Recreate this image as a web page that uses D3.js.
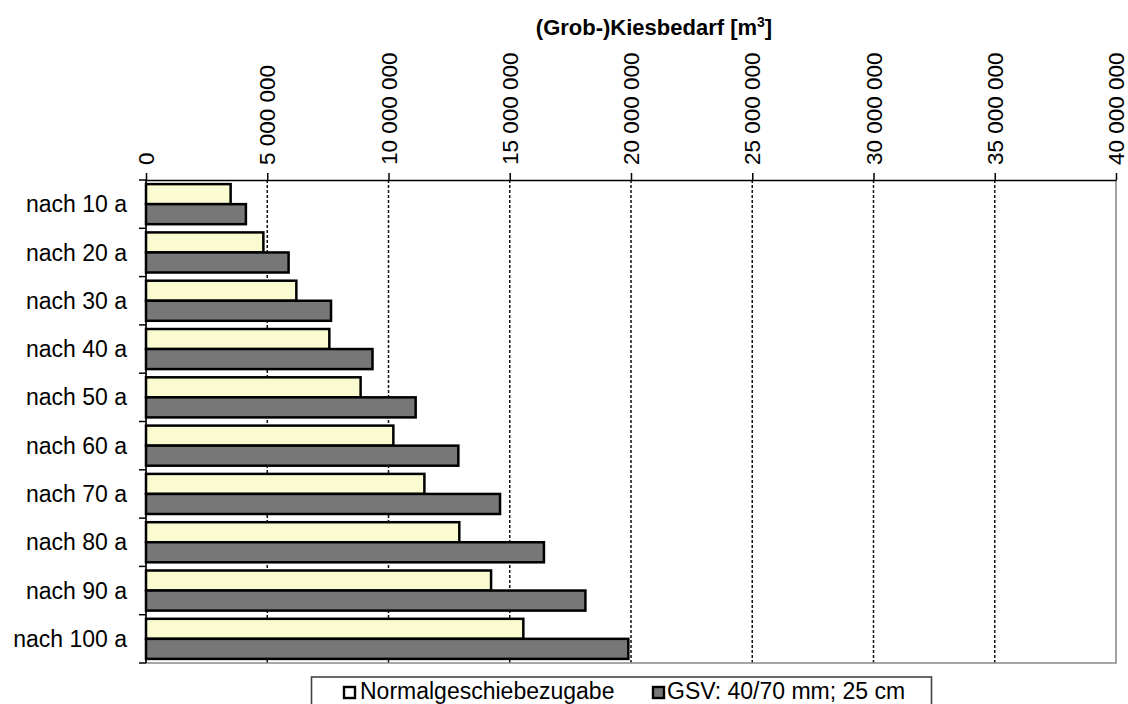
<!DOCTYPE html>
<html>
<head>
<meta charset="utf-8">
<script src="https://cdn.jsdelivr.net/npm/d3@7"></script>
<style>
  html, body { margin: 0; padding: 0; background: #fff; }
  svg { display: block; font-family: "Liberation Sans", Arial, sans-serif; }
</style>
</head>
<body>
<svg id="chart" width="1128" height="704"></svg>
<script>
// Categories (time after start) and the two series of gravel demand in m³
const categories = ["nach 10 a", "nach 20 a", "nach 30 a", "nach 40 a", "nach 50 a",
                    "nach 60 a", "nach 70 a", "nach 80 a", "nach 90 a", "nach 100 a"];
const seriesNames = ["Normalgeschiebezugabe", "GSV: 40/70 mm; 25 cm"];
const normalValues = [3490000, 4840000, 6200000, 7560000, 8850000,
                      10200000, 11480000, 12920000, 14230000, 15560000];
const gsvValues    = [4120000, 5880000, 7630000, 9340000, 11120000,
                      12880000, 14600000, 16410000, 18120000, 19890000];
const xTicks = [0, 5000000, 10000000, 15000000, 20000000, 25000000, 30000000, 35000000, 40000000];
const axisTitle = "(Grob-)Kiesbedarf [m";

const seriesValues = [normalValues, gsvValues];
const fills = ["#fafbd0", "#777777"];

const svg = d3.select("#chart");
const plotLeft = 146, plotRight = 1116, plotTop = 180, plotBottom = 663;

const x = d3.scaleLinear().domain([0, 40000000]).range([plotLeft, plotRight]);
const y = d3.scaleBand().domain(categories).range([plotTop, plotBottom])
  .paddingInner(0.17).paddingOuter(0.085);
const ySub = d3.scaleBand().domain(seriesNames).range([0, y.bandwidth()]);

const fmt = d3.formatLocale({ decimal: ",", thousands: " ", grouping: [3], currency: ["", ""] }).format(",");

// dashed vertical gridlines
svg.append("g").selectAll("line")
  .data(xTicks.filter(v => v > 0 && v < 40000000))
  .join("line")
  .attr("x1", d => x(d)).attr("x2", d => x(d))
  .attr("y1", plotTop).attr("y2", plotBottom)
  .attr("stroke", "#111").attr("stroke-width", 1.5)
  .attr("stroke-dasharray", "3,2");

// plot area border (right and bottom)
svg.append("path")
  .attr("d", `M${plotRight},${plotTop}V${plotBottom}H${plotLeft}`)
  .attr("fill", "none").attr("stroke", "#8a8a8a").attr("stroke-width", 1.6);

// bars
const rows = categories.map((c, i) => ({ cat: c, vals: seriesNames.map((s, j) => ({ s, j, v: seriesValues[j][i] })) }));
svg.append("g").selectAll("g")
  .data(rows).join("g")
  .attr("transform", d => `translate(0,${y(d.cat)})`)
  .selectAll("rect")
  .data(d => d.vals).join("rect")
  .attr("x", x(0))
  .attr("y", d => ySub(d.s))
  .attr("width", d => x(d.v) - x(0))
  .attr("height", ySub.bandwidth())
  .attr("fill", d => fills[d.j])
  .attr("stroke", "#000").attr("stroke-width", 2.5);

// top value axis
const xAxis = svg.append("g")
  .attr("transform", `translate(0,${plotTop})`)
  .call(d3.axisTop(x).tickValues(xTicks).tickSize(7).tickSizeOuter(0).tickFormat(""));
xAxis.select(".domain").attr("stroke", "#000").attr("stroke-width", 1.7);
xAxis.selectAll(".tick line").attr("stroke", "#000").attr("stroke-width", 1.5);

svg.append("g").selectAll("text")
  .data(xTicks).join("text")
  .attr("transform", d => `translate(${x(d)},165) rotate(-90)`)
  .attr("dy", "0.36em")
  .attr("text-anchor", "start")
  .attr("font-size", 22.5)
  .attr("fill", "#000")
  .text(d => fmt(d));

// left category axis
svg.append("line")
  .attr("x1", plotLeft).attr("x2", plotLeft).attr("y1", plotTop).attr("y2", plotBottom)
  .attr("stroke", "#000").attr("stroke-width", 1.7);
svg.append("g").selectAll("line")
  .data(d3.range(categories.length + 1))
  .join("line")
  .attr("x1", plotLeft - 7).attr("x2", plotLeft)
  .attr("y1", i => plotTop + i * y.step()).attr("y2", i => plotTop + i * y.step())
  .attr("stroke", "#000").attr("stroke-width", 1.5);

svg.append("g").selectAll("text")
  .data(categories).join("text")
  .attr("x", 127)
  .attr("y", d => y(d) + y.bandwidth() / 2)
  .attr("dy", "0.35em")
  .attr("text-anchor", "end")
  .attr("font-size", 23)
  .attr("fill", "#000")
  .text(d => d);

// axis title
const title = svg.append("text")
  .attr("x", 654).attr("y", 35)
  .attr("text-anchor", "middle")
  .attr("font-size", 22).attr("font-weight", "bold")
  .attr("fill", "#000")
  .text(axisTitle);
title.append("tspan").attr("font-size", 14).attr("dy", -8).text("3");
title.append("tspan").attr("dy", 8).text("]");

// legend
const lg = svg.append("g");
lg.append("rect")
  .attr("x", 311.5).attr("y", 677).attr("width", 620).attr("height", 40)
  .attr("fill", "#fff").attr("stroke", "#444").attr("stroke-width", 1.6);
const legendItems = [{ x: 344, tx: 360 }, { x: 653, tx: 667 }];
legendItems.forEach((it, j) => {
  lg.append("rect")
    .attr("x", it.x).attr("y", 687).attr("width", 11).attr("height", 11)
    .attr("fill", j === 0 ? "#fff" : fills[1])
    .attr("stroke", "#000").attr("stroke-width", 2.4);
  lg.append("text")
    .attr("x", it.tx).attr("y", 699)
    .attr("font-size", 23).attr("fill", "#000")
    .text(seriesNames[j]);
});
</script>
</body>
</html>
